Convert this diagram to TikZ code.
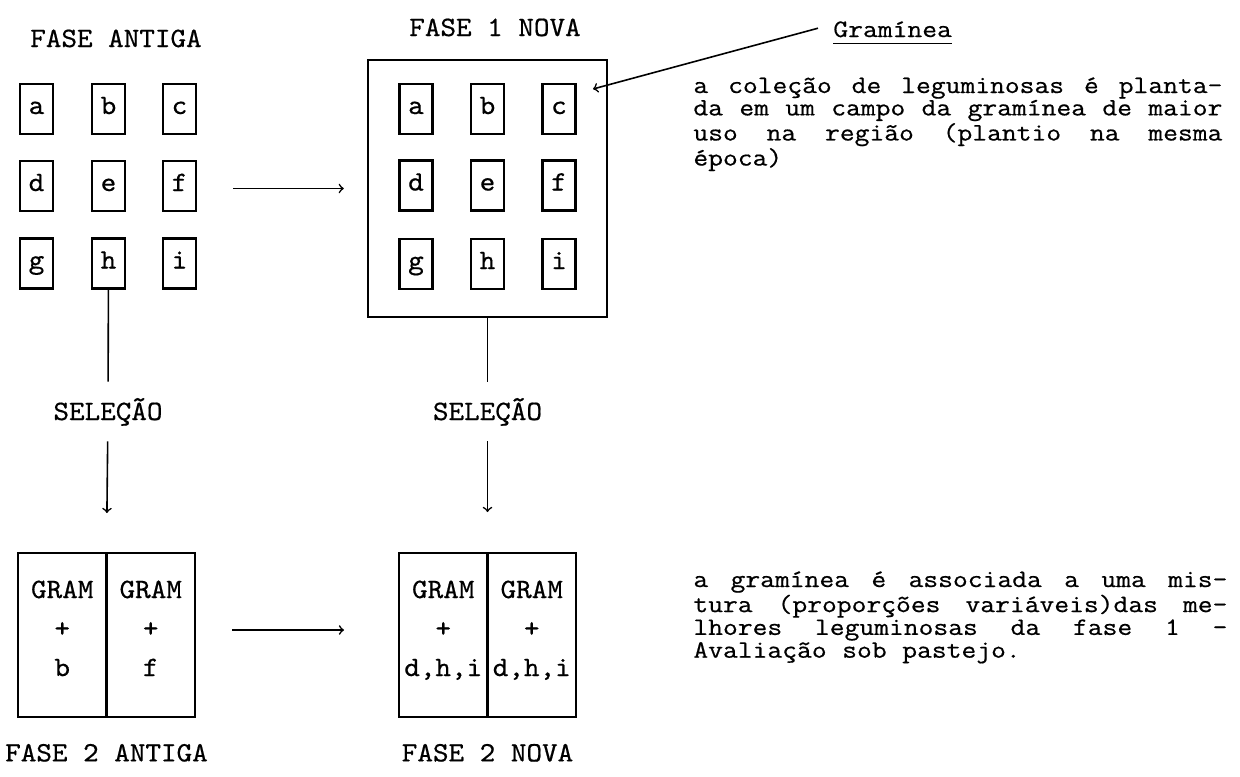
\documentclass[tikz,border=0pt]{standalone}
\usepackage{fontspec}
\newfontfamily\tyfont{lmmono10-regular.otf}[FakeStretch=1.06, FakeBold=0.6]
\newfontfamily\tynote{lmmono12-regular.otf}[FakeStretch=1.15, FakeBold=0.6]
\newcommand{\gap}{\hspace{0pt plus 1fill}}
\newcommand{\wsp}{\hspace{7.8pt}}
\newcommand{\fullline}[2]{\leavevmode\hbox to #1{#2}}
\usetikzlibrary{arrows,positioning}

\begin{document}
\begin{tikzpicture}[
                x=0.5pt, y=-0.5pt,
                cell/.style={draw, line width=1.2pt, minimum width=16.5pt, minimum height=25pt, inner sep=0pt, text height=8pt, text depth=3pt, font=\tyfont\fontsize{14}{16}\selectfont},
                field/.style={draw, line width=1.2pt, minimum width=119.5pt, minimum height=128.5pt},
                plot/.style={draw, line width=1.2pt, outer sep=0pt, minimum width=44.25pt, minimum height=82pt, inner sep=0pt, text width=44.25pt, align=center, text height=8.5pt, text depth=45.5pt, font=\tyfont\fontsize{14}{19.5}\selectfont},
                phase/.style={inner sep=0pt, text height=8.5pt, text depth=0pt, font=\tyfont\fontsize{14}{16}\selectfont},
                sel/.style={phase, inner ysep=10.5pt},
                note/.style={anchor=base west, inner sep=0pt, text width=268pt, align=left, font=\tynote\fontsize{12.5}{11.2}\selectfont},
                link/.style={line width=0.8pt},
                arrow/.style={->, line width=0.8pt}
            ]

            \useasboundingbox (0,0) rectangle (1240,776);

            % fase antiga
            \node[phase] (antiga) at (116,38.5) {FASE ANTIGA};
            \node[cell] (a1) at (36.5,109) {a};
            \node[cell] (b1) at (108.5,109) {b};
            \node[cell] (c1) at (179.5,109) {c};
            \node[cell] (d1) at (36.5,186) {d};
            \node[cell] (e1) at (108.5,186) {e};
            \node[cell] (f1) at (179.5,186) {f};
            \node[cell] (g1) at (36.5,263.5) {g};
            \node[cell] (h1) at (108.5,263.5) {h};
            \node[cell] (i1) at (179.5,263.5) {i};

            % fase 1 nova
            \node[field] (nova) at (487.5,188.5) {};
            \node[phase] (nova1) at (495,27.5) {FASE 1 NOVA};
            \node[cell] (a2) at (416,109) {a};
            \node[cell] (b2) at (487.5,109) {b};
            \node[cell] (c2) at (559,109) {c};
            \node[cell] (d2) at (416,185.5) {d};
            \node[cell] (e2) at (487.5,185.5) {e};
            \node[cell] (f2) at (559,185.5) {f};
            \node[cell] (g2) at (416,264) {g};
            \node[cell] (h2) at (487.5,264) {h};
            \node[cell] (i2) at (559,264) {i};

            % selecao
            \node[sel] (sela) at (108,411.5) {SELEÇÃO};
            \node[sel] (seln) at (487.5,411.5) {SELEÇÃO};

            % fase 2
            \node[plot] (gb1) at (62.25,635) {GRAM\\+\\b};
            \node[plot, right=0pt of gb1] (gb2) {GRAM\\+\\f};
            \node[plot] (gn1) at (443.25,635) {GRAM\\+\\d,h,i};
            \node[plot, right=0pt of gn1] (gn2) {GRAM\\+\\d,h,i};
            \node[phase, below=13.5pt of gb1.south east] (antiga2) {FASE 2 ANTIGA};
            \node[phase, below=13.5pt of gn1.south east] (nova2) {FASE 2 NOVA};

            % notas
            \node[note, text width=] (gram) at (833,37) {\underline{\raisebox{0pt}[\height][2pt]{Gramínea}}};
            \coordinate (ctip) at (593,89);
            \node[note] (nota1) at (693,93) {\fullline{264.5pt}{a\gap coleção\gap de\gap leguminosas\gap é\gap planta-}\\
                \fullline{264.5pt}{da\gap em\gap um\gap campo\gap da\gap gramínea\gap de\gap maior}\\
                \fullline{264.5pt}{uso\gap na\gap região\gap (plantio\gap na\gap mesma}\\
                época)};
            \node[note, font=\tynote\fontsize{12.5}{11.4}\selectfont] (nota2) at (693,587) {\fullline{267pt}{a\gap gramínea\gap é\gap associada\gap a\gap uma\gap mis-}\\
                \fullline{267pt}{tura\gap (proporções\gap variáveis)das\gap me-}\\
                \fullline{267pt}{lhores\gap leguminosas\gap da\gap fase\gap 1\gap -}\\
                Avaliação\wsp sob\wsp pastejo.};

            \draw[arrow, shorten <=18pt, shorten >=11.5pt] (f1.east |- nova.west) -- (nova.west);
            \draw[arrow] ([xshift=-7.5pt,yshift=2.5pt]gram.west) -- (ctip);
            \draw[link] (h1) -- (sela);
            \draw[arrow, shorten >=20pt] (sela) -- (gb1.north east);
            \draw[link] (nova) -- (seln);
            \draw[arrow, shorten >=20.5pt] (seln) -- (gn1.north east);
            \draw[arrow, shorten <=18.5pt, shorten >=27.5pt] ([yshift=2.5pt]gb2.east) -- ([yshift=2.5pt]gn1.west);

        \end{tikzpicture}
\end{document}
